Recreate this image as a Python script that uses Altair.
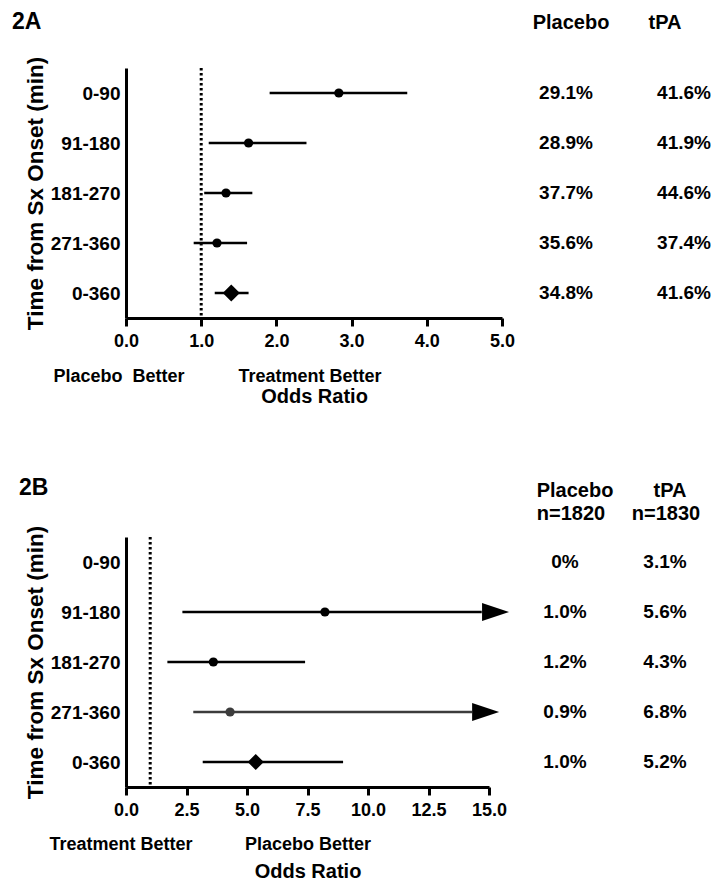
import altair as alt
import pandas as pd

groups = ["0-90", "91-180", "181-270", "271-360", "0-360"]
shapes = ["circle", "circle", "circle", "circle", "diamond"]

# Panel 2A: odds ratio and 95% CI
a_or = [2.83, 1.63, 1.33, 1.21, 1.40]
a_lo = [1.91, 1.10, 1.04, 0.90, 1.18]
a_hi = [3.74, 2.40, 1.68, 1.61, 1.63]
a_placebo = ["29.1%", "28.9%", "37.7%", "35.6%", "34.8%"]
a_tpa = ["41.6%", "41.9%", "44.6%", "37.4%", "41.6%"]

# Panel 2B
b_or = [None, 8.22, 3.61, 4.30, 5.36]
b_lo = [None, 2.33, 1.71, 2.78, 3.17]
b_hi = [None, 14.7, 7.40, 14.3, 8.97]
b_arrow = [None, 15.27, None, 14.86, None]
b_color = ["black", "black", "black", "#3c3c3c", "black"]
b_placebo = ["0%", "1.0%", "1.2%", "0.9%", "1.0%"]
b_tpa = ["3.1%", "5.6%", "4.3%", "6.8%", "5.2%"]

a_ticks = [0, 1, 2, 3, 4, 5]
b_ticks = [0, 2.5, 5, 7.5, 10, 12.5, 15]
null_line = [1.0]

FONT = "Liberation Sans"

dfA = pd.DataFrame({"group": groups, "or": a_or, "lo": a_lo, "hi": a_hi,
                    "shape": shapes, "placebo": a_placebo, "tpa": a_tpa})
dfB = pd.DataFrame({"group": groups, "or": b_or, "lo": b_lo, "hi": b_hi,
                    "arrow": b_arrow, "col": b_color, "shape": shapes,
                    "placebo": b_placebo, "tpa": b_tpa})

yscale = alt.Scale(type="point", domain=groups, padding=0.5)
YAXIS = alt.Axis(title="Time from Sx Onset (min)", titleFontSize=22.5, titleFontWeight="bold",
                 titleFont=FONT, titleColor="black", titlePadding=3,
                 labelFont=FONT, labelFontSize=19, labelFontWeight="bold", labelColor="black",
                 labelPadding=6, ticks=False, domainColor="black", domainWidth=3, grid=False)


def Y():
    return alt.Y("group:N", scale=yscale, axis=YAXIS)


def xaxis(vals, tpad):
    return alt.Axis(title="Odds Ratio", titleFont=FONT, titleFontSize=20, titleFontWeight="bold",
                    titleColor="black", titlePadding=tpad, values=vals, format=".1f",
                    labelFont=FONT, labelFontSize=18, labelFontWeight="bold", labelColor="black",
                    labelPadding=6, tickSize=8, tickWidth=3, tickColor="black",
                    domainColor="black", domainWidth=3, grid=False, labelFlush=False)


def text_layer(df, field, xpix, size=19):
    return alt.Chart(df).mark_text(font=FONT, fontSize=size, fontWeight="bold", color="black",
                                   align="center", baseline="middle").encode(
        y=Y(), x=alt.value(xpix), text=f"{field}:N")


def label(txt, xpix, ypix, size, align="center"):
    return alt.Chart(pd.DataFrame({"t": [txt]})).mark_text(
        font=FONT, fontSize=size, fontWeight="bold", color="black", align=align,
        baseline="alphabetic").encode(x=alt.value(xpix), y=alt.value(ypix), text="t:N")


# ---------- Panel A ----------
WA, H = 376, 250
xA = alt.Scale(domain=[0, 5], nice=False, zero=False)
baseA = alt.Chart(dfA)
ciA = baseA.mark_rule(color="black", strokeWidth=2.5).encode(
    y=Y(), x=alt.X("lo:Q", scale=xA, axis=xaxis(a_ticks, 36)), x2="hi:Q")
ruleA = alt.Chart(pd.DataFrame({"x": null_line})).mark_rule(
    color="black", strokeWidth=3, strokeDash=[2.5, 2.5]).encode(
    x=alt.X("x:Q", scale=xA, axis=xaxis(a_ticks, 36)))
ptA = baseA.mark_point(filled=True, opacity=1, color="black").encode(
    y=Y(),
    x=alt.X("or:Q", scale=xA, axis=xaxis(a_ticks, 36)),
    shape=alt.Shape("shape:N", scale=None),
    size=alt.condition(alt.datum.shape == "diamond", alt.value(290), alt.value(85)))

panelA = alt.layer(
    ciA, ruleA, ptA,
    text_layer(dfA, "placebo", 566 - 126),
    text_layer(dfA, "tpa", 684 - 126),
    label("2A", 12 - 126, -39, 23, "left"),
    label("Placebo", 571 - 126, -39, 20),
    label("tPA", 665 - 126, -39, 20),
    label("Placebo\u00a0 Better", 119 - 126, H + 64, 18),
    label("Treatment Better", 310 - 126, H + 64, 18),
).properties(width=WA, height=H)

# ---------- Panel B ----------
WB = 363
xB = alt.Scale(domain=[0, 15], nice=False, zero=False)
baseB = alt.Chart(dfB)
ciB = baseB.mark_rule(strokeWidth=2.3).encode(
    y=Y(), x=alt.X("lo:Q", scale=xB, axis=xaxis(b_ticks, 42)), x2="hi:Q",
    color=alt.Color("col:N", scale=None))
ruleB = alt.Chart(pd.DataFrame({"x": null_line})).mark_rule(
    color="black", strokeWidth=3, strokeDash=[2.5, 2.5]).encode(
    x=alt.X("x:Q", scale=xB, axis=xaxis(b_ticks, 42)))
arrowB = baseB.transform_filter("isValid(datum.arrow)").mark_point(
    filled=True, opacity=1, size=729, color="black", shape="M-1,-0.67L1,0L-1,0.67Z").encode(
    y=Y(),
    x=alt.X("arrow:Q", scale=xB, axis=xaxis(b_ticks, 42)))
ptB = baseB.transform_filter("isValid(datum.or)").mark_point(filled=True, opacity=1).encode(
    y=Y(),
    x=alt.X("or:Q", scale=xB, axis=xaxis(b_ticks, 42)),
    shape=alt.Shape("shape:N", scale=None),
    color=alt.Color("col:N", scale=None),
    size=alt.condition(alt.datum.shape == "diamond", alt.value(260), alt.value(85)))

panelB = alt.layer(
    ciB, ruleB, arrowB, ptB,
    text_layer(dfB, "placebo", 561 - 122),
    text_layer(dfB, "tpa", 661 - 122),
    label("2B", 15 - 122, -42, 23, "left"),
    label("Placebo", 571 - 122, -40, 20),
    label("n=1820", 567 - 122, -17, 20),
    label("tPA", 666 - 122, -40, 20),
    label("n=1830", 662 - 122, -17, 20),
    label("Treatment Better", 117 - 122, H + 63, 18),
    label("Placebo Better", 304 - 122, H + 63, 18),
).properties(width=WB, height=H)

chart = alt.vconcat(panelA, panelB, spacing=71).properties(
    padding={"left": 4, "top": 3, "right": 2, "bottom": 2}
).configure(font=FONT).configure_view(stroke="transparent", strokeWidth=0)

chart.save("out.html", embed_options={"renderer": "svg", "actions": False})
